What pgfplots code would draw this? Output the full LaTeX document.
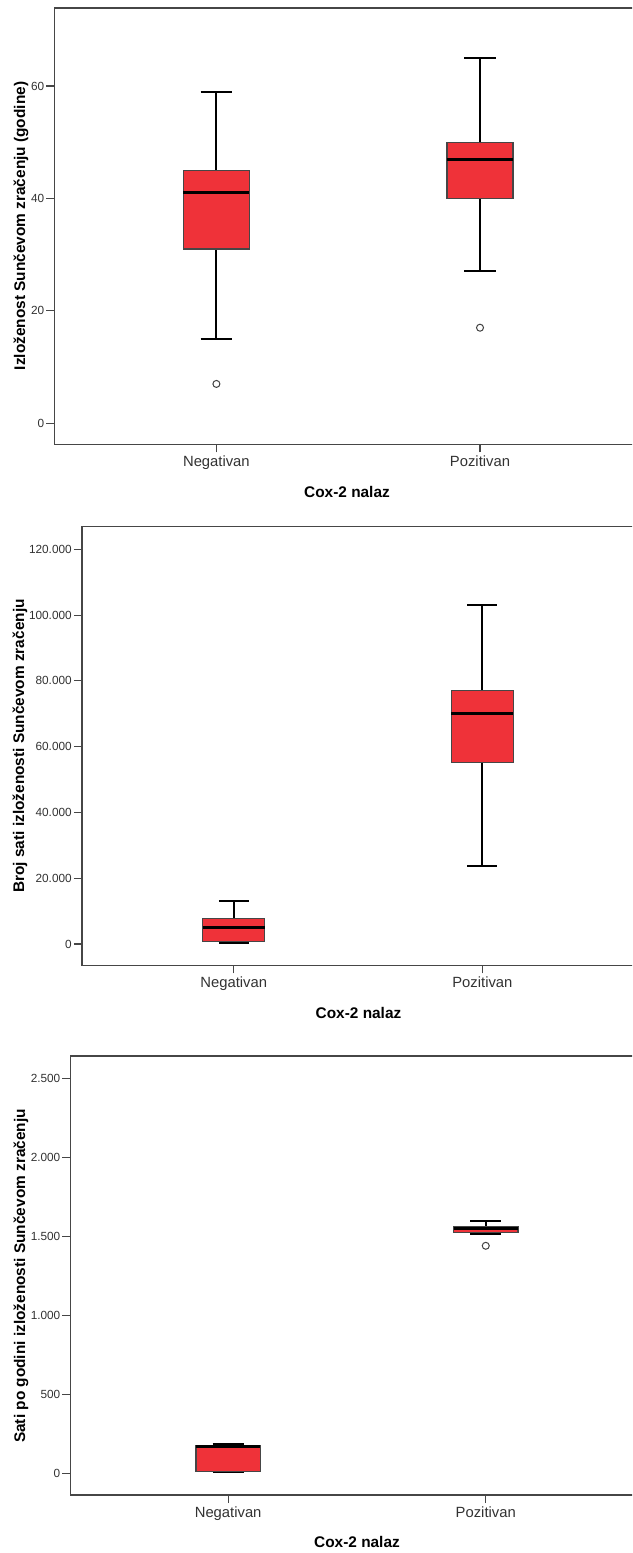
\documentclass[border=0pt]{standalone}
\usepackage{fontspec}
\setmainfont{Liberation Sans}
\usepackage{pgfplots}
\pgfplotsset{compat=1.18}
\usepgfplotslibrary{statistics}

\definecolor{boxred}{RGB}{239,50,57}
\definecolor{axgray}{RGB}{70,70,70}
\definecolor{lblgray}{RGB}{50,50,50}

\newcommand{\ttl}{\bfseries\fontsize{15.4}{18}\selectfont}

\pgfplotsset{
  spss/.style={
    scale only axis,
    clip=false,
    axis line style={draw=axgray, line width=1.3pt},
    tick pos=left,
    tick align=outside,
    major tick length=8pt,
    tick style={draw=axgray, line width=1.1pt},
    xtick={1,2},
    xticklabels={Negativan,Pozitivan},
    xticklabel style={font=\fontsize{14.8}{17}\selectfont, text=lblgray},
    yticklabel style={font=\fontsize{11.8}{14}\selectfont, text=lblgray, inner sep=2pt},
    /pgf/number format/assume math mode=true,
    /pgf/number format/fixed,
    /pgf/number format/1000 sep={.},
    scaled y ticks=false,
    boxplot/draw direction=y,
    boxplot/box extend=0.25,
    boxplot/whisker extend=0.12,
    boxplot/every box/.style={fill=boxred, draw=axgray, line width=1.2pt},
    boxplot/every median/.style={draw=black, line width=3pt},
    boxplot/every whisker/.style={draw=black, line width=2pt},
  },
  outl/.style={mark=o, mark size=3.5pt,
    mark options={draw=black!75, line width=1pt, fill=white}},
}

\begin{document}
\begin{tikzpicture}[x=1pt,y=1pt]
\clip (0,0) rectangle (632,-1553);

% panel 1: godine
\begin{axis}[spss, at={(54.4pt,-444.3pt)}, anchor=south west,
  width=587.6pt, height=436.3pt,
  xmin=0.3855, xmax=2.6145, ymin=-3.74, ymax=73.87,
  ytick={0,20,40,60}]
\addplot[outl, boxplot prepared={draw position=1,
  lower whisker=15, lower quartile=31, median=41,
  upper quartile=45, upper whisker=59}]
  table[row sep=\\, y index=0] {data\\ 7\\};
\addplot[outl, boxplot prepared={draw position=2,
  lower whisker=27, lower quartile=40, median=47,
  upper quartile=50, upper whisker=65}]
  table[row sep=\\, y index=0] {data\\ 17\\};
\end{axis}
\node[rotate=90] at (21,-226) {\ttl Izloženost Sunčevom zračenju (godine)};
\node at (347,-492) {\ttl Cox-2 nalaz};

% panel 2: broj sati
\begin{axis}[spss, at={(81.9pt,-965.3pt)}, anchor=south west,
  width=552.3pt, height=438.6pt,
  xmin=0.3896, xmax=2.6104, ymin=-6476, ymax=126870,
  ytick={0,20000,40000,60000,80000,100000,120000}]
\addplot[outl, boxplot prepared={draw position=1,
  lower whisker=200, lower quartile=700, median=5000,
  upper quartile=7800, upper whisker=13000}]
  coordinates {};
\addplot[outl, boxplot prepared={draw position=2,
  lower whisker=23600, lower quartile=55300, median=70000,
  upper quartile=77000, upper whisker=103000}]
  coordinates {};
\end{axis}
\node[rotate=90] at (20,-746) {\ttl Broj sati izloženosti Sunčevom zračenju};
\node at (358.5,-1013) {\ttl Cox-2 nalaz};

% panel 3: sati po godini
\begin{axis}[spss, at={(70.5pt,-1495pt)}, anchor=south west,
  width=572.9pt, height=439pt,
  xmin=0.388, xmax=2.612, ymin=-137, ymax=2641,
  ytick={0,500,1000,1500,2000,2500}]
\addplot[outl, boxplot prepared={draw position=1,
  lower whisker=6, lower quartile=12, median=172,
  upper quartile=176, upper whisker=185}]
  coordinates {};
\addplot[outl, boxplot prepared={draw position=2,
  lower whisker=1515, lower quartile=1523, median=1548,
  upper quartile=1561, upper whisker=1595}]
  table[row sep=\\, y index=0] {data\\ 1440\\};
\end{axis}
\node[rotate=90] at (21,-1276) {\ttl Sati po godini izloženosti Sunčevom zračenju};
\node at (357,-1541.7) {\ttl Cox-2 nalaz};
\end{tikzpicture}
\end{document}
